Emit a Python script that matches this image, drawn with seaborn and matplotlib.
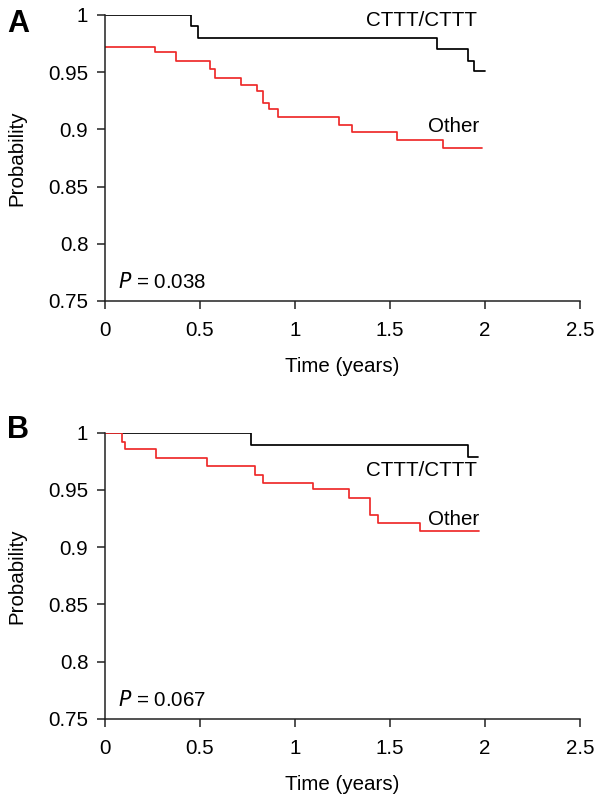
import matplotlib
matplotlib.use("Agg")
import matplotlib.pyplot as plt
import seaborn as sns
import pandas as pd

sns.set_theme(style="ticks")
plt.rcParams['font.family'] = ['Liberation Sans', 'DejaVu Sans']
plt.rcParams['text.color'] = 'black'
plt.rcParams['axes.labelcolor'] = 'black'
plt.rcParams['xtick.color'] = 'black'
plt.rcParams['ytick.color'] = 'black'

# Panel A data
a_cttt_t = [0, 0.45, 0.49, 1.745, 1.909, 1.944, 2.0]
a_cttt_p = [1.0, 0.99, 0.98, 0.97, 0.96, 0.951, 0.951]
a_other_t = [0, 0.263, 0.374, 0.553, 0.581, 0.716, 0.80, 0.833, 0.865, 0.909,
             1.233, 1.30, 1.535, 1.777, 1.986]
a_other_p = [0.972, 0.968, 0.960, 0.953, 0.945, 0.939, 0.934, 0.923, 0.918, 0.911,
             0.904, 0.8975, 0.891, 0.884, 0.884]
# Panel B data
b_cttt_t = [0, 0.768, 1.912, 1.965]
b_cttt_p = [1.0, 0.989, 0.979, 0.979]
b_other_t = [0, 0.089, 0.104, 0.267, 0.535, 0.789, 0.83, 1.093, 1.286, 1.395,
             1.435, 1.66, 1.97]
b_other_p = [1.0, 0.9916, 0.986, 0.978, 0.971, 0.963, 0.956, 0.951, 0.943, 0.928,
             0.921, 0.914, 0.914]

x_ticks = [0, 0.5, 1, 1.5, 2, 2.5]
x_ticklabels = ["0", "0.5", "1", "1.5", "2", "2.5"]
y_ticks = [0.75, 0.8, 0.85, 0.9, 0.95, 1.0]
y_ticklabels = ["0.75", "0.8", "0.85", "0.9", "0.95", "1"]
panel_labels = ["A", "B"]
p_values = ["0.038", "0.067"]
group_names = ["CTTT/CTTT", "Other"]

W, H = 602, 811
fig = plt.figure(figsize=(W / 100, H / 100), dpi=100)

def frac_rect(left, top, right, bottom):
    return [left / W, 1 - bottom / H, (right - left) / W, (bottom - top) / H]

axA = fig.add_axes(frac_rect(105, 15, 580, 301))
axB = fig.add_axes(frac_rect(105, 432.7, 580, 719))

colors = {"CTTT/CTTT": "black", "Other": "#ee2a2a"}

panels = [
    (axA, a_cttt_t, a_cttt_p, a_other_t, a_other_p,
     [(1.958, 0.9956), (1.968, 0.9024)]),
    (axB, b_cttt_t, b_cttt_p, b_other_t, b_other_p,
     [(1.958, 0.9668), (1.968, 0.9244)]),
]

FS = 14.8
for i, (ax, ct, cp, ot, op, label_pos) in enumerate(panels):
    df = pd.DataFrame({
        "t": ct + ot,
        "p": cp + op,
        "group": [group_names[0]] * len(ct) + [group_names[1]] * len(ot),
    })
    sns.lineplot(data=df, x="t", y="p", hue="group", palette=colors,
                 drawstyle="steps-post", estimator=None, sort=False,
                 legend=False, linewidth=1.25, ax=ax)
    ax.set_xlim(0, 2.5)
    ax.set_ylim(0.75, 1.0)
    ax.set_xticks(x_ticks)
    ax.set_xticklabels(x_ticklabels)
    ax.set_yticks(y_ticks)
    ax.set_yticklabels(y_ticklabels)
    ax.tick_params(axis="both", labelsize=FS, length=6, width=1.1,
                   direction="out", color="#222222")
    ax.tick_params(axis="x", pad=8.5)
    ax.tick_params(axis="y", pad=6)
    for s in ["top", "right"]:
        ax.spines[s].set_visible(False)
    for s in ["left", "bottom"]:
        ax.spines[s].set_linewidth(1.1)
        ax.spines[s].set_color("#222222")
    ax.set_xlabel("Time (years)", fontsize=FS, labelpad=12)
    ax.set_ylabel("Probability", fontsize=FS, labelpad=16)
    ax.set_facecolor("white")
    ax.text(label_pos[0][0], label_pos[0][1], group_names[0], ha="right",
            va="center", fontsize=FS)
    ax.text(label_pos[1][0], label_pos[1][1], group_names[1], ha="right",
            va="center", fontsize=FS)
    ax.text(0.07, 0.767, r"$\it{P}$" + " = " + p_values[i], ha="left",
            va="center", fontsize=FS)

fig.text(7 / W, 1 - 24 / H, panel_labels[0], fontsize=22, fontweight="bold",
         ha="left", va="center")
fig.text(7 / W, 1 - 430 / H, panel_labels[1], fontsize=22, fontweight="bold",
         ha="left", va="center")

fig.savefig("out.png", dpi=100, facecolor="white")
